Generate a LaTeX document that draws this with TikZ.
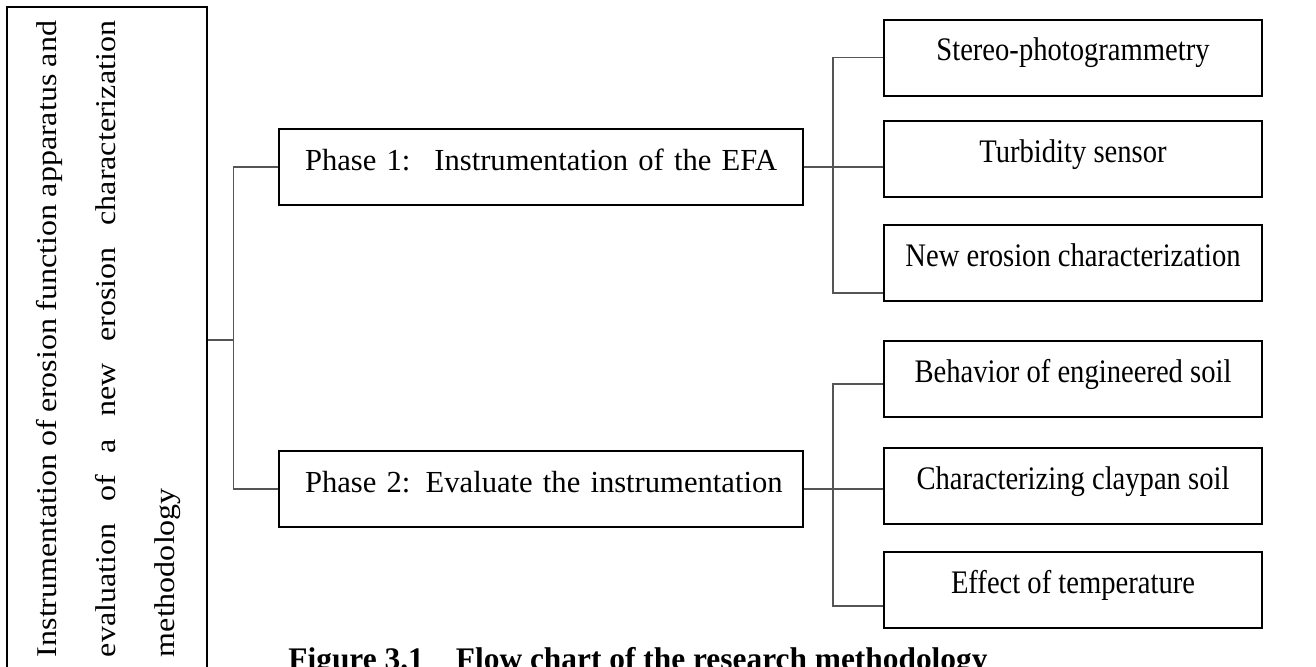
\documentclass[tikz,border=0pt]{standalone}
\usepackage{fontspec}
\setmainfont{Liberation Serif}
\usepackage{graphicx}
\usetikzlibrary{positioning}
\definecolor{ink}{RGB}{0,0,0}
\definecolor{wire}{RGB}{85,85,85}
% the scan is taller than it is wide: stretch the text to match
\newcommand{\tall}[1]{\scalebox{1}[1.15]{#1}}
\tikzset{
  goal box/.style={draw=ink,line width=1.2pt,minimum width=100pt,minimum height=333pt,inner sep=0pt},
  phase/.style={draw=ink,line width=1pt,text width=236pt,inner xsep=13pt,inner ysep=0pt,
    text height=20.5pt,text depth=17.5pt,align=left,font=\fontsize{15.3}{19}\selectfont},
  task/.style={draw=ink,line width=1pt,minimum width=189pt,inner ysep=0pt,
    text height=20.5pt,text depth=17.5pt,align=center,font=\fontsize{14.3}{17}\selectfont},
  link/.style={draw=wire,line width=0.6pt},
}

\begin{document}
\begin{tikzpicture}[x=0.5pt,y=-0.5pt]
  \useasboundingbox (0,0) rectangle (1316,666);
  % left column
  \node[goal box] (goal) at (107,340) {};
  \node[rotate=90,inner sep=0pt,font=\fontsize{14.3}{17}\selectfont] (goaltext) at (109,339)
    {\scalebox{1.12}[1]{\parbox{284pt}{\baselineskip=29.5pt\hyphenpenalty=10000\tolerance=9999
      Instrumentation of erosion function apparatus and\linebreak
      evaluation of a new erosion characterization\linebreak
      methodology}}};
  % phases
  \node[phase] (p1) at (541,167) {\mbox{Phase 1:\hspace{12pt}Instrumentation of the EFA}};
  \node[phase] (p2) at (541,489) {\mbox{Phase 2: Evaluate the instrumentation}};
  % tasks of phase 1
  \node[task] (s1) at (1073,57.5) {\tall{Stereo-photogrammetry}};
  \node[task] (s2) at (1073,159) {\tall{Turbidity sensor}};
  \node[task] (s3) at (1073,263) {\tall{New erosion characterization}};
  % tasks of phase 2
  \node[task] (b1) at (1073,379) {\tall{Behavior of engineered soil}};
  \node[task] (b2) at (1073,486) {\tall{Characterizing claypan soil}};
  \node[task] (b3) at (1073,590) {\tall{Effect of temperature}};
  % connectors
  \draw[link] (goal.east) -- ++(25,0) coordinate (hub);
  \draw[link] (p1.west) -| (hub) |- (p2.west);
  \draw[link] (p1.east) -- (p1.east -| s2.west);
  \draw[link] (s1.west) -| ([xshift=14.5pt]p1.east) |- ([yshift=4.5pt]s3.south west);
  \draw[link] (p2.east) -- (p2.east -| b2.west);
  \draw[link] ([yshift=-2.5pt]b1.west) -| ([xshift=14.5pt]p2.east) |- ([yshift=-8pt]b3.west);
  % caption, cut off by the page edge
  \node[anchor=base west,inner sep=0pt,font=\fontsize{15.7}{19}\selectfont\bfseries] (caption) at (288,669)
    {Figure 3.1\hspace{16pt}Flow chart of the research methodology};
\end{tikzpicture}
\end{document}
